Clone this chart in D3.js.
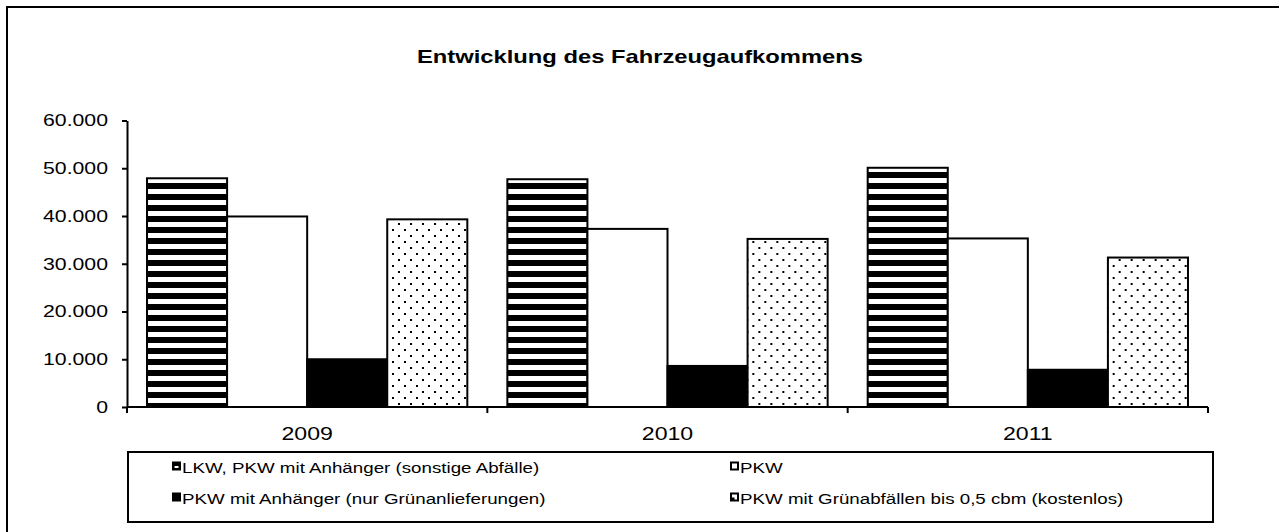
<!DOCTYPE html>
<html>
<head>
<meta charset="utf-8">
<script src="https://cdn.jsdelivr.net/npm/d3@7"></script>
<style>
  html, body { margin: 0; padding: 0; background: #fff; }
  svg { display: block; font-family: "Liberation Sans", Arial, sans-serif; }
  .wide { transform: scaleX(1.25); transform-box: fill-box; }
  .wide-start { transform-origin: 0% 50%; }
  .wide-mid { transform-origin: 50% 50%; }
  .wide-end { transform-origin: 100% 50%; }
</style>
</head>
<body>
<script>
// Fahrzeugaufkommen je Jahr und Fahrzeugart
const years = ["2009", "2010", "2011"];
const seriesNames = [
  "LKW, PKW mit Anhänger (sonstige Abfälle)",
  "PKW",
  "PKW mit Anhänger (nur Grünanlieferungen)",
  "PKW mit Grünabfällen bis 0,5 cbm (kostenlos)"
];
const lkwPkwAnhaenger = [47900, 47700, 50100];
const pkw = [39900, 37300, 35300];
const pkwAnhaengerGruen = [10000, 8600, 7800];
const pkwGruenKostenlos = [39300, 35200, 31300];
const yTicks = [0, 10000, 20000, 30000, 40000, 50000, 60000];
const chartTitle = "Entwicklung des Fahrzeugaufkommens";

const seriesValues = [lkwPkwAnhaenger, pkw, pkwAnhaengerGruen, pkwGruenKostenlos];
const seriesFills = ["url(#stripes)", "#fff", "#000", "url(#dots)"];

const W = 1279, H = 532;
const svg = d3.select("body").append("svg").attr("width", W).attr("height", H);

// Füllmuster
const defs = svg.append("defs");
const stripes = defs.append("pattern").attr("id", "stripes")
  .attr("patternUnits", "userSpaceOnUse").attr("width", 8).attr("height", 11);
stripes.append("rect").attr("width", 8).attr("height", 11).attr("fill", "#000");
stripes.append("rect").attr("y", 2).attr("width", 8).attr("height", 5).attr("fill", "#fff");

const dots = defs.append("pattern").attr("id", "dots")
  .attr("patternUnits", "userSpaceOnUse").attr("width", 12).attr("height", 12);
dots.append("rect").attr("width", 12).attr("height", 12).attr("fill", "#fff");
dots.append("rect").attr("x", 1).attr("y", 1).attr("width", 2).attr("height", 2).attr("fill", "#000");
dots.append("rect").attr("x", 7).attr("y", 7).attr("width", 2).attr("height", 2).attr("fill", "#000");

// Rahmen
svg.append("rect").attr("x", 7).attr("y", 7).attr("width", 1400).attr("height", 700)
  .attr("fill", "none").attr("stroke", "#000").attr("stroke-width", 2);

// Titel
svg.append("text").attr("class", "wide wide-mid")
  .attr("x", 640).attr("y", 63).attr("text-anchor", "middle")
  .attr("font-size", 19).attr("font-weight", "bold").text(chartTitle);

const plot = { left: 127, right: 1208, top: 120.5, bottom: 407 };

const x0 = d3.scaleBand().domain(years).range([plot.left, plot.right]).padding(0);
const x1 = d3.scaleBand().domain(d3.range(seriesNames.length))
  .range([0, x0.bandwidth()]).paddingInner(0).paddingOuter(0.25);
const y = d3.scaleLinear().domain([0, 60000]).range([plot.bottom, plot.top]);

const de = d3.formatLocale({ decimal: ",", thousands: ".", grouping: [3], currency: ["", " €"] });
const fmt = de.format(",d");

// Balken
const groups = svg.append("g").selectAll("g").data(years).join("g")
  .attr("transform", d => `translate(${x0(d)},0)`);
groups.selectAll("rect")
  .data((yr, i) => seriesValues.map((vals, s) => ({ s, v: vals[i] })))
  .join("rect")
  .attr("x", d => x1(d.s))
  .attr("y", d => y(d.v))
  .attr("width", x1.bandwidth())
  .attr("height", d => y(0) - y(d.v))
  .attr("fill", d => seriesFills[d.s])
  .attr("stroke", "#000").attr("stroke-width", 2);

// Y-Achse
const yAxis = svg.append("g").attr("transform", `translate(${plot.left},0)`)
  .call(d3.axisLeft(y).tickValues(yTicks).tickFormat(fmt).tickSize(5).tickSizeOuter(0).tickPadding(14));
yAxis.select(".domain").attr("stroke-width", 2);
yAxis.selectAll(".tick line").attr("stroke-width", 2);
yAxis.selectAll("text").attr("class", "wide wide-end").attr("font-size", 17)
  .attr("font-family", null).attr("fill", "#000");

// X-Achse
const xAxis = svg.append("g").attr("transform", `translate(0,${plot.bottom})`);
xAxis.append("line").attr("x1", plot.left).attr("x2", plot.right)
  .attr("stroke", "#000").attr("stroke-width", 2);
const bounds = years.map(d => x0(d)).concat([x0.range()[1]]);
xAxis.selectAll(".bound").data(bounds).join("line").attr("class", "bound")
  .attr("x1", d => d).attr("x2", d => d).attr("y1", 0).attr("y2", 6)
  .attr("stroke", "#000").attr("stroke-width", 2);
xAxis.selectAll(".lbl").data(years).join("text").attr("class", "lbl wide wide-mid")
  .attr("x", d => x0(d) + x0.bandwidth() / 2).attr("y", 33)
  .attr("text-anchor", "middle").attr("font-size", 18.5).text(d => d);

// Legende
const leg = svg.append("g");
leg.append("rect").attr("x", 128).attr("y", 452).attr("width", 1085).attr("height", 70)
  .attr("fill", "#fff").attr("stroke", "#000").attr("stroke-width", 2);
const legPos = [
  { x: 172, y: 467 }, { x: 730, y: 467 },
  { x: 172, y: 498 }, { x: 730, y: 498 }
];
const swatchFills = ["#000", "#fff", "#000", "#fff"];
const items = leg.selectAll(".item").data(seriesNames).join("g").attr("class", "item")
  .attr("transform", (d, i) => `translate(${legPos[i].x},${legPos[i].y})`);
items.append("rect").attr("x", 1).attr("y", -4.5).attr("width", 7).attr("height", 7)
  .attr("fill", (d, i) => swatchFills[i]).attr("stroke", "#000").attr("stroke-width", 2);
// Musterandeutung in den Legendensymbolen
items.filter((d, i) => i === 0).append("rect")
  .attr("x", 2.5).attr("y", -1).attr("width", 4).attr("height", 2).attr("fill", "#fff");
items.filter((d, i) => i === 3).append("rect")
  .attr("x", 2).attr("y", -0.5).attr("width", 2.5).attr("height", 2.5).attr("fill", "#000");
items.append("text").attr("class", "wide wide-start").attr("x", 10).attr("y", 5.5)
  .attr("font-size", 15).text(d => d);
</script>
</body>
</html>
